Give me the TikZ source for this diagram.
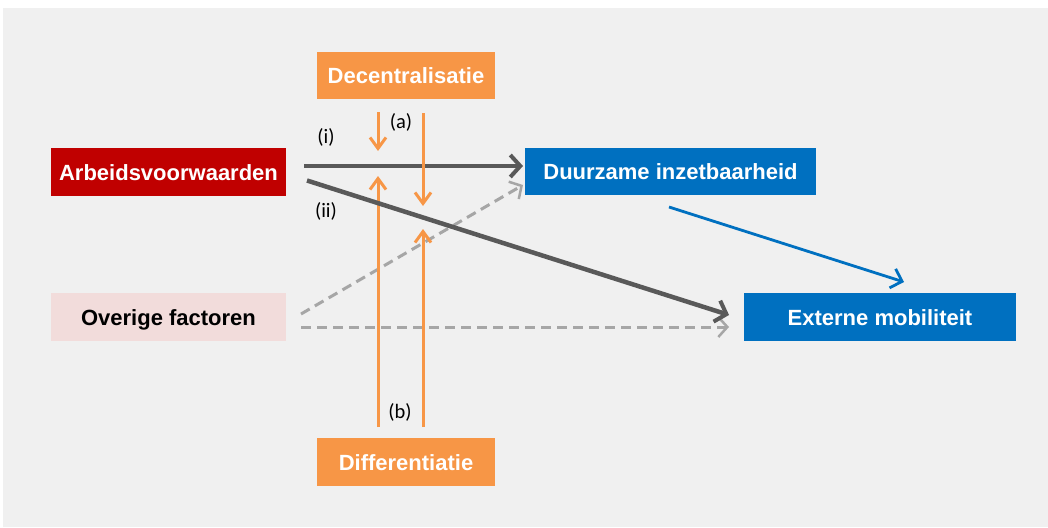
\documentclass[tikz,border=0pt]{standalone}
\usepackage{fontspec}
\setmainfont{Liberation Sans}
\newfontfamily\lblfont{Carlito}
\usetikzlibrary{arrows.meta}
\definecolor{bgc}{HTML}{F0F0F0}
\definecolor{darkred}{HTML}{C00000}
\definecolor{pinkc}{HTML}{F2DCDB}
\definecolor{bluec}{HTML}{0070C0}
\definecolor{orangec}{HTML}{F79646}
\definecolor{dgray}{HTML}{595959}
\definecolor{lgray}{HTML}{A6A6A6}
\tikzset{
  box/.style={rectangle, inner sep=0pt, text height=16pt, text depth=0pt, font=\fontsize{22}{24}\selectfont\bfseries, text=white},
  lbl/.style={font=\lblfont\fontsize{20.5}{22}\selectfont, text=black},
  mainarrow/.style={draw=dgray, line width=4.5pt, -{Straight Barb[length=10pt,width=22pt,line width=4pt]}},
  dasharrow/.style={draw=lgray, line width=3pt, dash pattern=on 10pt off 6pt, -{Straight Barb[length=9pt,width=20pt,line width=2.5pt]}},
  orarrow/.style={draw=orangec, line width=3pt, -{Straight Barb[length=11pt,width=16pt,line width=3pt]}},
  bluearrow/.style={draw=bluec, line width=2.8pt, -{Straight Barb[length=10pt,width=20pt,line width=2.8pt]}},
}
\begin{document}
\begin{tikzpicture}[x=1pt,y=-1pt]
\useasboundingbox (0,0) rectangle (1048,527);
\fill[bgc] (3,8) rectangle (1048,527);
% boxes
\node[box, fill=darkred, minimum width=235pt, minimum height=48pt] (arb) at (168.5,172) {Arbeidsvoorwaarden};
\node[box, fill=pinkc, text=black, minimum width=235pt, minimum height=48pt] (ovf) at (168.5,317) {Overige factoren};
\node[box, fill=bluec, minimum width=291pt, minimum height=47pt] (duur) at (670.5,171.5) {Duurzame inzetbaarheid};
\node[box, fill=bluec, minimum width=272pt, minimum height=48pt] (ext) at (880,317) {Externe mobiliteit};
\node[box, fill=orangec, minimum width=178pt, minimum height=47pt] (dec) at (406,75.5) {Decentralisatie};
\node[box, fill=orangec, minimum width=178pt, minimum height=48pt] (dif) at (406,462) {Differentiatie};
% coordinates
\coordinate (iS) at (304,166);
\coordinate (iE) at (523,166);
\coordinate (iiS) at (307,180.5);
\coordinate (iiE) at (729,315);
\coordinate (d1S) at (301,314);
\coordinate (d1E) at (523,185);
\coordinate (d2S) at (301,327);
\coordinate (d2E) at (729,327);
\coordinate (bS) at (669,207);
\coordinate (bE) at (904,282);
\coordinate (a1S) at (378,112);
\coordinate (a1E) at (378,151);
\coordinate (a2S) at (423,113);
\coordinate (a2E) at (423,206);
\coordinate (b1S) at (378,427);
\coordinate (b1E) at (378,176);
\coordinate (b2S) at (423,427);
\coordinate (b2E) at (423,229);
% connectors
\draw[dasharrow] (d1S) -- (d1E);
\draw[dasharrow] (d2S) -- (d2E);
\draw[orarrow] (b1S) -- (b1E);
\draw[orarrow] (b2S) -- (b2E);
\draw[mainarrow] (iS) -- (iE);
\draw[mainarrow] (iiS) -- (iiE);
\draw[orarrow] (a1S) -- (a1E);
\draw[orarrow] (a2S) -- (a2E);
\draw[bluearrow] (bS) -- (bE);
% labels
\node[lbl] (li) at (326,137) {(i)};
\node[lbl] (la) at (401,122) {(a)};
\node[lbl] (lii) at (326,211) {(ii)};
\node[lbl] (lb) at (400,412) {(b)};
\end{tikzpicture}
\end{document}
